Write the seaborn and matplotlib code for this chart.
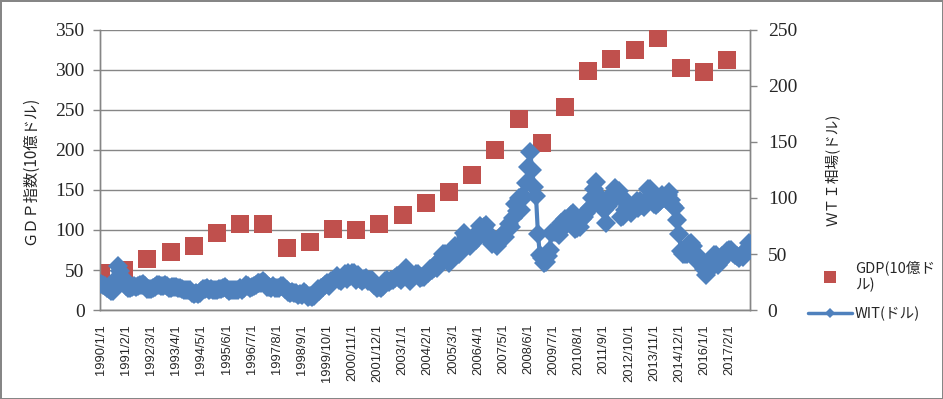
import matplotlib
matplotlib.use("Agg")
import matplotlib.pyplot as plt
import pandas as pd
import seaborn as sns
from matplotlib.lines import Line2D

# GDP (10億ドル), one value per year, drawn at January of that year
gdp_years = list(range(1990, 2018))
gdp_values = [46, 50, 64, 72, 80, 96, 108, 107, 77, 85, 101, 100, 108, 119,
              134, 148, 169, 200, 239, 209, 254, 299, 314, 325, 340, 302, 298, 312]

# WTI (ドル), first day of each month
wti_1990 = [23.0, 22.5, 21.5, 20.0, 18.5, 17.0, 17.3, 21.5, 27.5, 39.5, 35.0, 29.0]
wti_1991 = [27.5, 21.0, 19.5, 19.8, 20.8, 21.0, 20.3, 21.5, 22.0, 22.5, 23.3, 21.0]
wti_1992 = [19.1, 18.5, 18.9, 19.5, 20.4, 22.2, 21.9, 21.6, 21.5, 22.0, 21.0, 19.7]
wti_1993 = [19.5, 20.3, 20.4, 20.3, 20.0, 19.6, 18.5, 17.8, 17.6, 17.8, 17.5, 15.6]
wti_1994 = [14.2, 15.2, 14.5, 14.8, 16.9, 18.4, 19.0, 19.9, 17.6, 18.4, 17.7, 17.8]
wti_1995 = [17.6, 18.6, 18.6, 19.3, 20.4, 18.8, 17.2, 17.5, 18.3, 17.5, 17.8, 18.2]
wti_1996 = [19.6, 18.2, 19.5, 22.6, 21.4, 20.1, 20.9, 21.0, 22.3, 24.5, 23.8, 24.5]
wti_1997 = [25.9, 24.5, 20.8, 20.6, 20.0, 21.2, 19.5, 20.0, 19.7, 21.2, 21.2, 19.2]
wti_1998 = [17.6, 16.4, 15.4, 15.7, 15.4, 15.0, 13.7, 14.1, 13.3, 16.1, 14.2, 11.6]
wti_1999 = [12.1, 12.0, 12.3, 16.2, 18.7, 17.0, 19.3, 20.6, 22.3, 24.5, 21.8, 25.6]
wti_2000 = [25.6, 27.6, 30.4, 26.9, 25.7, 29.8, 32.0, 27.3, 33.4, 30.8, 33.4, 32.8]
wti_2001 = [26.8, 31.0, 27.7, 26.3, 27.3, 28.4, 26.3, 26.6, 27.1, 22.2, 21.2, 19.5]
wti_2002 = [20.4, 19.9, 21.7, 26.2, 26.4, 24.9, 26.8, 26.9, 28.9, 30.6, 28.3, 26.9]
wti_2003 = [31.9, 33.6, 37.9, 31.0, 25.9, 29.6, 30.3, 32.2, 31.8, 28.2, 29.1, 29.2]
wti_2004 = [32.5, 33.0, 36.9, 35.8, 37.7, 40.3, 37.1, 43.8, 44.0, 49.6, 50.1, 45.0]
wti_2005 = [42.2, 46.8, 51.8, 57.3, 50.4, 50.3, 56.9, 61.6, 68.9, 66.2, 60.6, 57.4]
wti_2006 = [63.1, 66.0, 62.8, 66.2, 74.6, 70.3, 73.9, 75.7, 68.9, 62.9, 58.7, 63.4]
wti_2007 = [61.1, 57.3, 62.0, 65.9, 65.3, 65.5, 71.1, 76.8, 73.9, 82.0, 94.5, 88.7]
wti_2008 = [99.6, 88.9, 101.8, 101.0, 113.5, 127.8, 141.0, 124.8, 109.7, 101.5, 68.0, 49.3]
wti_2009 = [46.3, 42.0, 42.5, 48.4, 53.2, 68.6, 69.3, 69.5, 70.0, 66.9, 78.1, 77.6]
wti_2010 = [81.5, 77.0, 78.7, 84.9, 86.2, 72.6, 72.9, 81.3, 73.9, 81.6, 82.9, 86.8]
wti_2011 = [89.4, 90.8, 99.6, 107.9, 113.9, 102.7, 94.9, 95.7, 88.9, 77.6, 93.0, 100.2]
wti_2012 = [102.9, 98.5, 108.8, 103.0, 106.2, 83.2, 83.8, 88.9, 96.5, 92.5, 86.7, 88.9]
wti_2013 = [93.1, 97.5, 90.7, 97.1, 93.5, 91.9, 97.9, 107.9, 107.7, 102.1, 94.6, 93.8]
wti_2014 = [95.4, 97.5, 102.9, 99.7, 99.4, 102.5, 105.3, 98.2, 92.9, 90.7, 80.5, 68.0]
wti_2015 = [52.7, 49.6, 49.6, 50.1, 59.2, 60.2, 56.9, 45.2, 45.4, 45.1, 46.1, 40.0]
wti_2016 = [36.8, 31.6, 34.4, 36.9, 44.8, 49.1, 48.9, 40.1, 43.2, 48.2, 46.7, 51.1]
wti_2017 = [52.3, 53.9, 54.0, 50.6, 48.8, 48.3, 46.1, 49.2, 47.3, 51.7, 54.3, 60.0]

wti_values = (wti_1990 + wti_1991 + wti_1992 + wti_1993 + wti_1994 + wti_1995
              + wti_1996 + wti_1997 + wti_1998 + wti_1999 + wti_2000 + wti_2001
              + wti_2002 + wti_2003 + wti_2004 + wti_2005 + wti_2006 + wti_2007
              + wti_2008 + wti_2009 + wti_2010 + wti_2011 + wti_2012 + wti_2013
              + wti_2014 + wti_2015 + wti_2016 + wti_2017)

months = pd.date_range("1990-01-01", periods=len(wti_values), freq="MS")
month_labels = [f"{d.year}/{d.month}/1" for d in months]
label_step = 13

gdp_color = "#C0504D"
wti_color = "#4F81BD"
grid_color = "#868686"

sns.set_style("white")
plt.rcParams["font.family"] = ["Noto Sans CJK JP", "DejaVu Sans"]

fig, ax = plt.subplots(figsize=(9.43, 3.99), dpi=100)
fig.subplots_adjust(left=0.106, right=0.795, top=0.925, bottom=0.223)
ax2 = ax.twinx()

wti_df = pd.DataFrame({"pos": range(len(wti_values)), "wti": wti_values})
gdp_df = pd.DataFrame({"pos": [(y - 1990) * 12 for y in gdp_years], "gdp": gdp_values})

sns.scatterplot(data=gdp_df, x="pos", y="gdp", ax=ax, marker="s", s=150,
                color=gdp_color, linewidth=0, zorder=3)
sns.lineplot(data=wti_df, x="pos", y="wti", ax=ax2, color=wti_color,
             marker="D", markersize=10.5, markeredgewidth=0, linewidth=3, zorder=3)

ax.set_xlim(-0.5, len(wti_values) - 0.5)
ax.set_ylim(0, 350)
ax2.set_ylim(0, 250)
ax.set_yticks(range(0, 351, 50))
ax2.set_yticks(range(0, 251, 50))

# category labels in the middle, tick marks on the boundaries
ax.set_xticks(range(0, len(wti_values), label_step))
ax.set_xticklabels(month_labels[::label_step], rotation=90,
                   family="Liberation Sans", fontsize=9.3)
ax.set_xticks([p - 0.5 for p in range(0, len(wti_values), label_step)], minor=True)
ax.tick_params(axis="x", which="major", length=0, pad=10)
ax.tick_params(axis="x", which="minor", length=5, width=1, color=grid_color, direction="out")

ax.tick_params(axis="y", length=5, width=1, color=grid_color, direction="out", pad=6)
ax2.tick_params(axis="y", length=5, width=1, color=grid_color, direction="out", pad=8)
for lab in ax.get_yticklabels() + ax2.get_yticklabels():
    lab.set_family("Liberation Serif")
    lab.set_fontsize(14)

ax.grid(axis="y", color=grid_color, linewidth=1)
ax.set_axisbelow(True)
ax.set_xlabel("")
ax.set_ylabel("ＧＤＰ指数(10億ドル)", fontsize=11, labelpad=12)
ax2.set_ylabel("ＷＴＩ相場(ドル)", fontsize=10.5, labelpad=20, rotation=90)

for a in (ax, ax2):
    a.spines["top"].set_visible(False)
    for side in ("left", "right", "bottom"):
        a.spines[side].set_color(grid_color)
        a.spines[side].set_linewidth(1)

handles = [
    Line2D([], [], color=gdp_color, marker="s", linestyle="none", markersize=8, markeredgewidth=0),
    Line2D([], [], color=wti_color, marker="D", linewidth=2.5, markersize=5, markeredgewidth=0),
]
fig.legend(handles, ["GDP(10億ド\nル)", "WIT(ドル)"], loc="upper left",
           bbox_to_anchor=(0.843, 0.38), frameon=False, fontsize=10.5,
           handlelength=3, handletextpad=0.2, labelspacing=1.0)

fig.patch.set_edgecolor(grid_color)
fig.patch.set_linewidth(2)
fig.savefig("out.png", dpi=100, edgecolor=fig.get_edgecolor())
